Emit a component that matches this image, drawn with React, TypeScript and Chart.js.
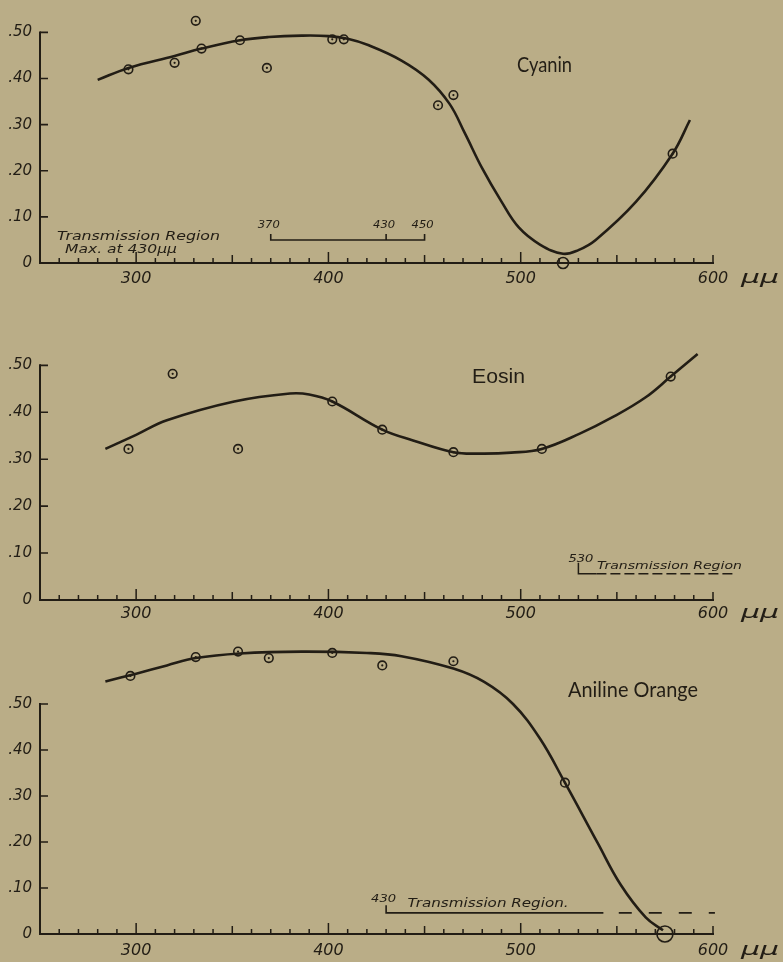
import React, { useEffect, useRef } from 'react';
import { Chart, registerables } from 'chart.js';

Chart.register(...registerables);

const INK = '#221d15';
const PAPER = '#baad87';
const FULL_W = 783;
const AXIS_LEFT = 40;
const AXIS_RIGHT = 713;

// ---------- shared axis data ----------
const xAxisMin = 250;
const xAxisMax = 600;
const xTickLabels = [300, 400, 500, 600];
const yTickValues = [0, 0.1, 0.2, 0.3, 0.4, 0.5];
const yTickLabels = ['0', '.10', '.20', '.30', '.40', '.50'];
const unitLabel = 'μμ';

// ---------- Cyanin ----------
const cyaninTitle = 'Cyanin';
const cyaninObsX = [296, 320, 331, 334, 354, 368, 402, 408, 457, 465, 522, 579];
const cyaninObsY = [0.42, 0.434, 0.525, 0.465, 0.483, 0.423, 0.485, 0.485, 0.342, 0.364, 0, 0.237];
const cyaninCurveX = [280, 296, 320, 334, 354, 369, 386, 400, 410, 421, 438, 452, 463, 471, 480, 490, 499, 510, 522, 530, 539, 560, 579, 588];
const cyaninCurveY = [0.397, 0.423, 0.449, 0.465, 0.483, 0.49, 0.493, 0.492, 0.486, 0.472, 0.439, 0.398, 0.345, 0.281, 0.205, 0.133, 0.077, 0.04, 0.02, 0.028, 0.05, 0.133, 0.237, 0.31];
const cyaninRegion = [370, 430, 450];
const cyaninRegionLevel = 0.05;
const cyaninNotes = ['Transmission Region', 'Max. at 430μμ'];

// ---------- Eosin ----------
const eosinTitle = 'Eosin';
const eosinObsX = [296, 319, 353, 402, 428, 465, 511, 578];
const eosinObsY = [0.322, 0.482, 0.322, 0.423, 0.363, 0.315, 0.322, 0.476];
const eosinCurveX = [284, 300, 316, 351, 380, 390, 402, 428, 444, 465, 479, 495, 511, 531, 548, 565, 578, 592];
const eosinCurveY = [0.322, 0.352, 0.383, 0.423, 0.44, 0.438, 0.423, 0.363, 0.34, 0.315, 0.312, 0.314, 0.322, 0.355, 0.39, 0.432, 0.476, 0.524];
const eosinRegion = [530, 612];
const eosinRegionLevel = 0.056;
const eosinNote = 'Transmission Region';

// ---------- Aniline Orange ----------
const anilineTitle = 'Aniline Orange';
const anilineObsX = [297, 331, 353, 369, 402, 428, 465, 523, 575];
const anilineObsY = [0.561, 0.602, 0.614, 0.6, 0.611, 0.584, 0.593, 0.329, 0];
const anilineCurveX = [284, 300, 316, 331, 354, 386, 420, 438, 465, 481, 496, 510, 523, 540, 552, 565, 574];
const anilineCurveY = [0.549, 0.566, 0.584, 0.6, 0.61, 0.614, 0.611, 0.604, 0.577, 0.548, 0.5, 0.425, 0.329, 0.198, 0.107, 0.036, 0.008];
const anilineRegion = [430, 543, 551, 601];
const anilineRegionLevel = 0.046;
const anilineNote = 'Transmission Region.';

if (typeof document !== 'undefined') {
  document.body.style.margin = '0';
  document.body.style.background = PAPER;
}

type Px = (v: number) => number;

function fitText(ctx: CanvasRenderingContext2D, text: string, left: number, baseline: number, width: number, font: string) {
  ctx.save();
  ctx.font = font;
  ctx.textAlign = 'left';
  ctx.textBaseline = 'alphabetic';
  const w = ctx.measureText(text).width || 1;
  ctx.translate(left, baseline);
  ctx.scale(width / w, 1);
  ctx.fillStyle = INK;
  ctx.fillText(text, 0, 0);
  ctx.restore();
}

function fitTextCenter(ctx: CanvasRenderingContext2D, text: string, cx: number, baseline: number, width: number, font: string) {
  fitText(ctx, text, cx - width / 2, baseline, width, font);
}

type PanelCfg = {
  height: number;
  bottom: number;
  unit: number;
  xPad: number;
  obsX: number[];
  obsY: number[];
  curveX: number[];
  curveY: number[];
  zeroRadius: number;
  unitBaseline: number;
  decorate: (ctx: CanvasRenderingContext2D, px: Px, py: Px) => void;
};

const HAND = 'italic 12px "DejaVu Sans"';

const cyaninCfg: PanelCfg = {
  height: 300,
  bottom: 263,
  unit: 474,
  xPad: 6,
  obsX: cyaninObsX,
  obsY: cyaninObsY,
  curveX: cyaninCurveX,
  curveY: cyaninCurveY,
  zeroRadius: 5.5,
  unitBaseline: 283,
  decorate: (ctx, px, py) => {
    fitText(ctx, cyaninTitle, 517, 72, 55, '21px Lato');
    const [a, b, c] = cyaninRegion;
    const ly = py(cyaninRegionLevel);
    ctx.lineWidth = 1.6;
    ctx.beginPath();
    ctx.moveTo(px(a), ly - 6);
    ctx.lineTo(px(a), ly);
    ctx.lineTo(px(c), ly);
    ctx.lineTo(px(c), ly - 6);
    ctx.moveTo(px(b), ly);
    ctx.lineTo(px(b), ly - 6);
    ctx.stroke();
    for (const v of cyaninRegion) fitTextCenter(ctx, String(v), px(v) - 2, ly - 11.5, 22, 'italic 11px "DejaVu Sans"');
    fitText(ctx, cyaninNotes[0], 57, 240, 163, HAND);
    fitText(ctx, cyaninNotes[1], 65, 252.5, 112, HAND);
  },
};

const eosinCfg: PanelCfg = {
  height: 325,
  bottom: 300,
  unit: 478.7,
  xPad: 4.5,
  obsX: eosinObsX,
  obsY: eosinObsY,
  curveX: eosinCurveX,
  curveY: eosinCurveY,
  zeroRadius: 5.5,
  unitBaseline: 318,
  decorate: (ctx, px, py) => {
    fitText(ctx, eosinTitle, 472, 82.7, 53, '20px "Liberation Sans"');
    const [s, e] = eosinRegion;
    const ly = py(eosinRegionLevel);
    ctx.lineWidth = 1.5;
    ctx.beginPath();
    ctx.moveTo(px(s), ly - 11);
    ctx.lineTo(px(s), ly);
    ctx.lineTo(px(s) + 18, ly);
    ctx.stroke();
    ctx.save();
    ctx.setLineDash([10, 4]);
    ctx.beginPath();
    ctx.moveTo(px(s) + 18, ly);
    ctx.lineTo(px(e), ly);
    ctx.stroke();
    ctx.restore();
    fitText(ctx, String(s), px(s) - 10, ly - 12, 25, 'italic 11px "DejaVu Sans"');
    fitText(ctx, eosinNote, px(s) + 18.5, ly - 5, 145, 'italic 11px "DejaVu Sans"');
  },
};

const anilineCfg: PanelCfg = {
  height: 337,
  bottom: 309,
  unit: 474.7,
  xPad: 7.5,
  obsX: anilineObsX,
  obsY: anilineObsY,
  curveX: anilineCurveX,
  curveY: anilineCurveY,
  zeroRadius: 8,
  unitBaseline: 330,
  decorate: (ctx, px, py) => {
    fitText(ctx, anilineTitle, 568, 72.3, 130, '21px Lato');
    const [s, e1, d0, d1] = anilineRegion;
    const ly = py(anilineRegionLevel);
    ctx.lineWidth = 1.6;
    ctx.beginPath();
    ctx.moveTo(px(s), ly - 7.5);
    ctx.lineTo(px(s), ly);
    ctx.lineTo(px(e1), ly);
    ctx.stroke();
    ctx.save();
    ctx.setLineDash([13, 17]);
    ctx.beginPath();
    ctx.moveTo(px(d0), ly);
    ctx.lineTo(px(d1), ly);
    ctx.stroke();
    ctx.restore();
    fitText(ctx, String(s), px(s) - 15, ly - 10.5, 25, 'italic 11px "DejaVu Sans"');
    fitText(ctx, anilineNote, px(s) + 21.5, ly - 5.5, 161, 'italic 12.5px "DejaVu Sans"');
  },
};

function makeFurniture(cfg: PanelCfg) {
  return {
    id: 'furniture',
    afterDraw(chart: any) {
      const { ctx } = chart;
      const xs = chart.scales.x;
      const ys = chart.scales.y;
      const px: Px = (v) => xs.getPixelForValue(v);
      const py: Px = (v) => ys.getPixelForValue(v);
      ctx.save();
      ctx.strokeStyle = INK;
      ctx.fillStyle = INK;
      ctx.lineCap = 'butt';
      const x0 = px(xAxisMin);
      const yb = py(0);
      // y axis line only up to .50
      ctx.lineWidth = 2;
      ctx.beginPath();
      ctx.moveTo(x0, yb + 1);
      ctx.lineTo(x0, py(yTickValues[yTickValues.length - 1]) - 1);
      ctx.stroke();
      // y tick marks (inside)
      ctx.lineWidth = 1.6;
      ctx.beginPath();
      for (const v of yTickValues) {
        if (v === 0) continue;
        ctx.moveTo(x0, py(v));
        ctx.lineTo(x0 + 8, py(v));
      }
      ctx.stroke();
      // x tick marks (inside, pointing up)
      ctx.lineWidth = 1.5;
      ctx.beginPath();
      for (let v = xAxisMin + 10; v <= xAxisMax; v += 10) {
        let len = v % 100 === 0 ? 11 : v % 50 === 0 ? 8 : 5;
        if (v === xAxisMax) len = 8;
        ctx.moveTo(px(v), yb);
        ctx.lineTo(px(v), yb - len);
      }
      ctx.stroke();
      // unit
      fitText(ctx, unitLabel, 741, cfg.unitBaseline, 38, 'italic 18px "DejaVu Sans"');
      cfg.decorate(ctx, px, py);
      ctx.restore();
    },
  };
}

function Panel({ cfg }: { cfg: PanelCfg }) {
  const ref = useRef<HTMLCanvasElement | null>(null);
  useEffect(() => {
    const canvas = ref.current;
    if (!canvas) return;
    const ymax = cfg.bottom / cfg.unit;
    const obs = cfg.obsX.map((x, i) => ({ x, y: cfg.obsY[i] }));
    const curve = cfg.curveX.map((x, i) => ({ x, y: cfg.curveY[i] }));
    const isZero = (c: any) => cfg.obsY[c.dataIndex] === 0;
    const chart = new Chart(canvas, {
      type: 'scatter',
      data: {
        datasets: [
          {
            type: 'line',
            data: curve,
            showLine: true,
            borderColor: INK,
            borderWidth: 2.6,
            pointRadius: 0,
            tension: 0.4,
            cubicInterpolationMode: 'default',
            fill: false,
            clip: false,
          } as any,
          {
            data: obs,
            showLine: false,
            pointRadius: (c: any) => (isZero(c) ? cfg.zeroRadius : 4.3),
            pointBorderWidth: 1.6,
            pointBorderColor: INK,
            pointBackgroundColor: 'rgba(0,0,0,0)',
            clip: false,
          } as any,
          {
            data: obs,
            showLine: false,
            pointRadius: (c: any) => (isZero(c) ? 0 : 1.1),
            pointBorderWidth: 0,
            pointBackgroundColor: INK,
            clip: false,
          } as any,
        ],
      },
      options: {
        animation: false,
        responsive: false,
        devicePixelRatio: 1,
        events: [],
        layout: { padding: { left: 0, right: FULL_W - AXIS_RIGHT, top: 0, bottom: 0 } },
        plugins: { legend: { display: false }, tooltip: { enabled: false } },
        scales: {
          x: {
            type: 'linear',
            position: 'bottom',
            min: xAxisMin,
            max: xAxisMax,
            grid: { display: false, drawTicks: false, tickLength: 0 },
            border: { display: true, color: INK, width: 2 },
            ticks: {
              color: INK,
              font: { family: '"DejaVu Sans"', size: 16, style: 'italic' },
              padding: cfg.xPad,
              autoSkip: false,
              maxRotation: 0,
              callback: (v: any) => String(v),
            },
            afterBuildTicks: (s: any) => {
              s.ticks = xTickLabels.map((value) => ({ value }));
            },
            afterFit: (s: any) => {
              s.height = cfg.height - cfg.bottom;
              s.paddingLeft = 0;
              s.paddingRight = 0;
            },
          },
          y: {
            type: 'linear',
            min: 0,
            max: ymax,
            grid: { display: false, drawTicks: false, tickLength: 0 },
            border: { display: false },
            ticks: {
              color: INK,
              font: { family: '"DejaVu Sans"', size: 15, style: 'italic' },
              padding: 8,
              autoSkip: false,
              callback: (_v: any, i: number) => yTickLabels[i],
            },
            afterBuildTicks: (s: any) => {
              s.ticks = yTickValues.map((value) => ({ value }));
            },
            afterFit: (s: any) => {
              s.width = AXIS_LEFT;
              s.paddingTop = 0;
              s.paddingBottom = 0;
            },
          },
        },
      } as any,
      plugins: [makeFurniture(cfg)],
    });
    return () => chart.destroy();
  }, [cfg]);
  return <canvas ref={ref} width={FULL_W} height={cfg.height} style={{ display: 'block', width: FULL_W, height: cfg.height }} />;
}

export default function App() {
  return (
    <div style={{ width: FULL_W, height: 962, background: PAPER, overflow: 'hidden' }}>
      <Panel cfg={cyaninCfg} />
      <Panel cfg={eosinCfg} />
      <Panel cfg={anilineCfg} />
    </div>
  );
}
